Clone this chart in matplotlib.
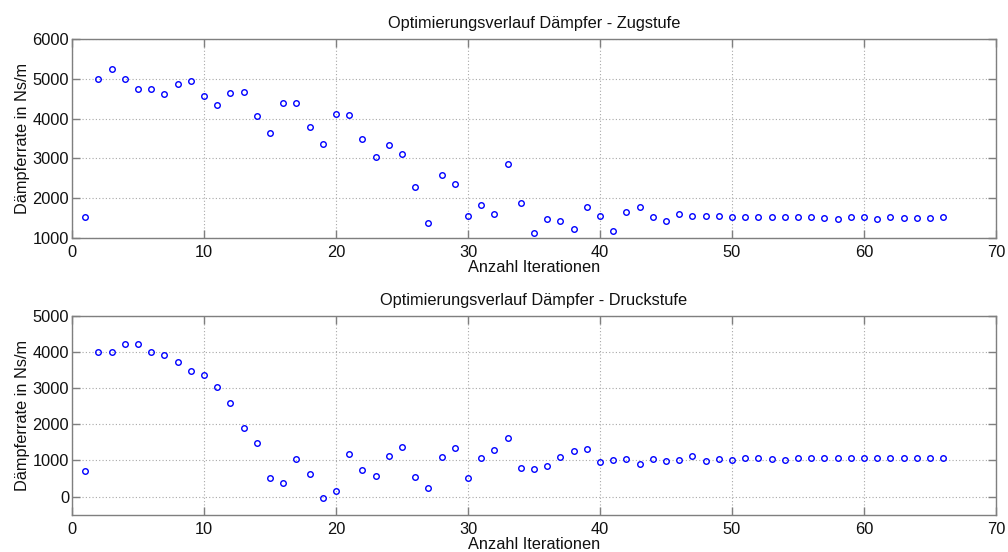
import matplotlib
matplotlib.use("Agg")
import matplotlib.pyplot as plt

# Iterations 1..66
iterations = list(range(1, 67))

# Damping rate, rebound stage (Zugstufe) in Ns/m
zugstufe = [
    1530, 5000, 5250, 5000, 4750, 4750, 4620, 4875, 4940, 4563,
    4345, 4655, 4672, 4076, 3647, 4403, 4395, 3790, 3370, 4109,
    4092, 3496, 3034, 3336, 3100, 2285, 1387, 2580, 2353, 1546,
    1832, 1597, 2866, 1874, 1126, 1487, 1437, 1227, 1782, 1563,
    1168, 1655, 1782, 1530, 1420, 1605, 1555, 1555, 1555, 1538,
    1538, 1538, 1538, 1521, 1521, 1521, 1504, 1487, 1521, 1521,
    1487, 1521, 1504, 1504, 1504, 1521,
]

# Damping rate, compression stage (Druckstufe) in Ns/m
druckstufe = [
    702, 4000, 4000, 4212, 4212, 4000, 3917, 3714, 3464, 3363,
    3039, 2587, 1912, 1497, 517, 379, 1053, 619, -37, 166,
    1173, 739, 582, 1136, 1376, 545, 240, 1099, 1349, 508,
    1062, 1303, 1635, 785, 757, 841, 1108, 1256, 1321, 951,
    1007, 1044, 905, 1053, 979, 1025, 1118, 988, 1044, 1007,
    1071, 1062, 1044, 1025, 1062, 1062, 1062, 1081, 1081, 1062,
    1062, 1062, 1062, 1062, 1062, 1062,
]

titles = ["Optimierungsverlauf Dämpfer - Zugstufe",
          "Optimierungsverlauf Dämpfer - Druckstufe"]
xlabel = "Anzahl Iterationen"
ylabel = "Dämpferrate in Ns/m"

plt.rcParams["font.family"] = ["Liberation Sans", "DejaVu Sans"]
fs = 11.8

fig = plt.figure(figsize=(10.08, 5.52), dpi=100)
ax_top = fig.add_axes([0.0714, 0.5688, 0.9167, 0.3605])
ax_bot = fig.add_axes([0.0714, 0.0676, 0.9167, 0.3600])

spine_col = "#7f7f7f"
text_col = "#111111"
for ax, data, title, ylim, yticks in [
    (ax_top, zugstufe, titles[0], (1000, 6000), range(1000, 6001, 1000)),
    (ax_bot, druckstufe, titles[1], (-500, 5000), range(0, 5001, 1000)),
]:
    ax.plot(iterations, data, linestyle="none", marker="o", markersize=4,
            markerfacecolor="none", markeredgecolor="#0000ff", markeredgewidth=1.0)
    ax.set_xlim(0, 70)
    ax.set_ylim(*ylim)
    ax.set_xticks(range(0, 71, 10))
    ax.set_yticks(list(yticks))
    ax.grid(True, linestyle=(0, (1, 2)), color="#a8a8a8", linewidth=0.8)
    ax.set_axisbelow(True)
    for s in ax.spines.values():
        s.set_color(spine_col)
        s.set_linewidth(1.0)
    ax.tick_params(direction="in", length=6, width=1.0, color=spine_col,
                   labelcolor=text_col, labelsize=fs, top=True, right=True, pad=2)
    ax.tick_params(axis="x", pad=5)
    ax.set_title(title, fontsize=fs, pad=8, color=text_col)
    ax.set_xlabel(xlabel, fontsize=fs, labelpad=0, color=text_col)
    ax.set_ylabel(ylabel, fontsize=fs, labelpad=2, color=text_col)

fig.savefig("out.png", dpi=100)
